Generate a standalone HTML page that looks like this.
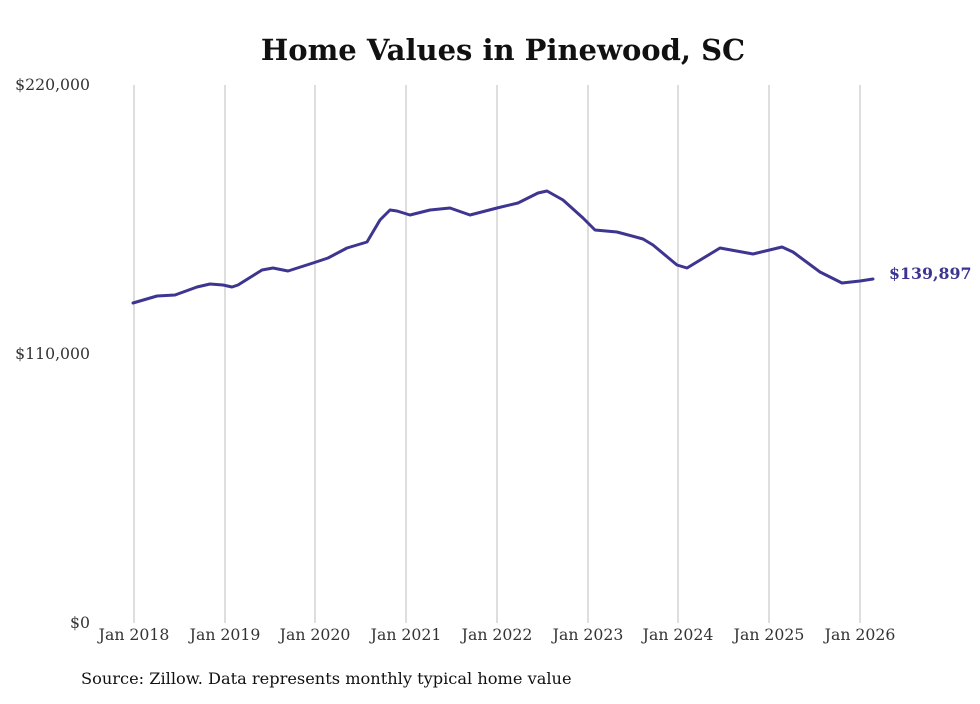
<!DOCTYPE html>
<html><head><style>body{margin:0;background:#fff}</style></head><body>
<svg width="980" height="699" xmlns="http://www.w3.org/2000/svg" font-family="DejaVu Serif, serif">
<rect width="980" height="699" fill="#fff"/>
<text x="503" y="60" text-anchor="middle" font-size="29" font-weight="bold" fill="#111">Home Values in Pinewood, SC</text>
<g stroke="#bdbdbd" stroke-width="1">
<line x1="134" y1="85" x2="134" y2="623"/><line x1="225" y1="85" x2="225" y2="623"/>
<line x1="315" y1="85" x2="315" y2="623"/><line x1="406" y1="85" x2="406" y2="623"/>
<line x1="497" y1="85" x2="497" y2="623"/><line x1="588" y1="85" x2="588" y2="623"/>
<line x1="678" y1="85" x2="678" y2="623"/><line x1="769" y1="85" x2="769" y2="623"/>
<line x1="860" y1="85" x2="860" y2="623"/>
</g>
<g font-size="15.7" fill="#333">
<text x="90" y="90" text-anchor="end">$220,000</text>
<text x="90" y="359" text-anchor="end">$110,000</text>
<text x="90" y="628" text-anchor="end">$0</text>
<g text-anchor="middle">
<text x="134" y="640">Jan 2018</text><text x="225" y="640">Jan 2019</text>
<text x="315" y="640">Jan 2020</text><text x="406" y="640">Jan 2021</text>
<text x="497" y="640">Jan 2022</text><text x="588" y="640">Jan 2023</text>
<text x="678" y="640">Jan 2024</text><text x="769" y="640">Jan 2025</text>
<text x="860" y="640">Jan 2026</text>
</g>
</g>
<polyline fill="none" stroke="#3d3590" stroke-width="3" stroke-linejoin="round" stroke-linecap="round" points="133,303 157,296 175,295 197,287 210,284 223,285 232,287 238,285 262,270 273,268 288,271 313,263 328,258 347,248 367,242 380,220 390,210 397,211 410,215 430,210 450,208 470,215 497,208 518,203 538,193 547,191 563,200 583,218 595,230 617,232 643,239 653,245 677,265 687,268 720,248 753,254 782,247 793,252 820,272 842,283 860,281 873,279"/>
<text x="889" y="279" font-size="15.8" font-weight="bold" fill="#3b3591">$139,897</text>
<text x="81" y="684" font-size="16.2" fill="#111">Source: Zillow. Data represents monthly typical home value</text>
</svg>
</body></html>
